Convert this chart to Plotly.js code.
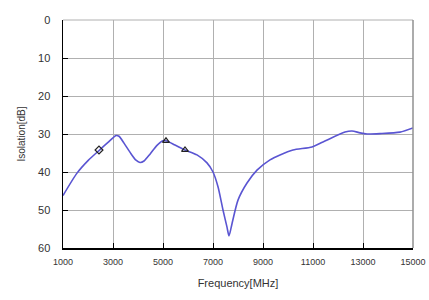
<!DOCTYPE html>
<html><head><meta charset="utf-8">
<script src="https://cdn.plot.ly/plotly-3.0.1.min.js"></script>
<style>html,body{margin:0;padding:0;background:#fff;}#c{width:429px;height:300px;}</style>
</head><body><div id="c"></div>
<script>
const freq = [1000,1560,2000,2480,2800,3000,3120,3240,3440,3720,3920,4080,4240,4480,4760,5000,5120,5480,5880,6360,6760,7000,7200,7400,7560,7640,7760,8000,8360,8760,9280,9680,10200,10960,11400,12280,12560,12880,13160,13680,14480,15000];
const isolation = [46.2,40.3,37,34.1,32.2,31,30.4,30.6,32.4,35.2,36.9,37.5,37.1,35.3,33,31.8,31.8,32.9,34.2,35.5,37.6,40,43.9,50,54.5,56.8,53.6,47.4,42.9,39.5,36.8,35.5,34.2,33.4,32.1,29.5,29.2,29.7,30,29.9,29.5,28.4];
const markFreq = [2440,5120,5880];
const markIso = [34.2,31.8,34.2];
const markSym = ['diamond-open','triangle-up-open','triangle-up-open'];
const xTicks = [1000,3000,5000,7000,9000,11000,13000,15000];
const yTicks = [0,10,20,30,40,50,60];

Plotly.newPlot('c',[
 {x:freq,y:isolation,mode:'lines',line:{color:'#5a55d2',width:1.6,shape:'spline',smoothing:0.7},hoverinfo:'skip'},
 {x:markFreq,y:markIso,mode:'markers',marker:{symbol:markSym,size:6,color:'#222',line:{width:1.2,color:'#222'}}}
],{
 width:429,height:300,showlegend:false,
 margin:{l:63,r:16,t:20,b:52},
 paper_bgcolor:'#fff',plot_bgcolor:'#fff',
 font:{family:'Liberation Sans, Arial, sans-serif',color:'#333'},
 xaxis:{range:[1000,15000],tickvals:xTicks,ticktext:xTicks.map(String),showgrid:true,gridcolor:'#b0b0b0',gridwidth:1,
   showline:true,linecolor:'#000',linewidth:1.5,ticks:'inside',ticklen:5,tickcolor:'#000',zeroline:false,ticklabelstandoff:5,
   tickfont:{size:9,color:'#333'},title:{text:'Frequency[MHz]',font:{size:11,color:'#333'},standoff:13}},
 yaxis:{range:[60,0],tickvals:yTicks,showgrid:true,gridcolor:'#b0b0b0',gridwidth:1,
   showline:true,linecolor:'#000',linewidth:1.5,ticks:'inside',ticklen:5,tickcolor:'#000',zeroline:false,ticklabelstandoff:9,
   tickfont:{size:11,color:'#333'},title:{text:'Isolation[dB]',font:{size:10,color:'#333'},standoff:10}},
 shapes:[
  {type:'line',xref:'paper',yref:'paper',x0:0,x1:1,y0:1,y1:1,line:{color:'#b0b0b0',width:1}},
  {type:'line',xref:'paper',yref:'paper',x0:1,x1:1,y0:0,y1:1,line:{color:'#909090',width:1.5}}
 ]
},{displayModeBar:false,staticPlot:true});
</script></body></html>
